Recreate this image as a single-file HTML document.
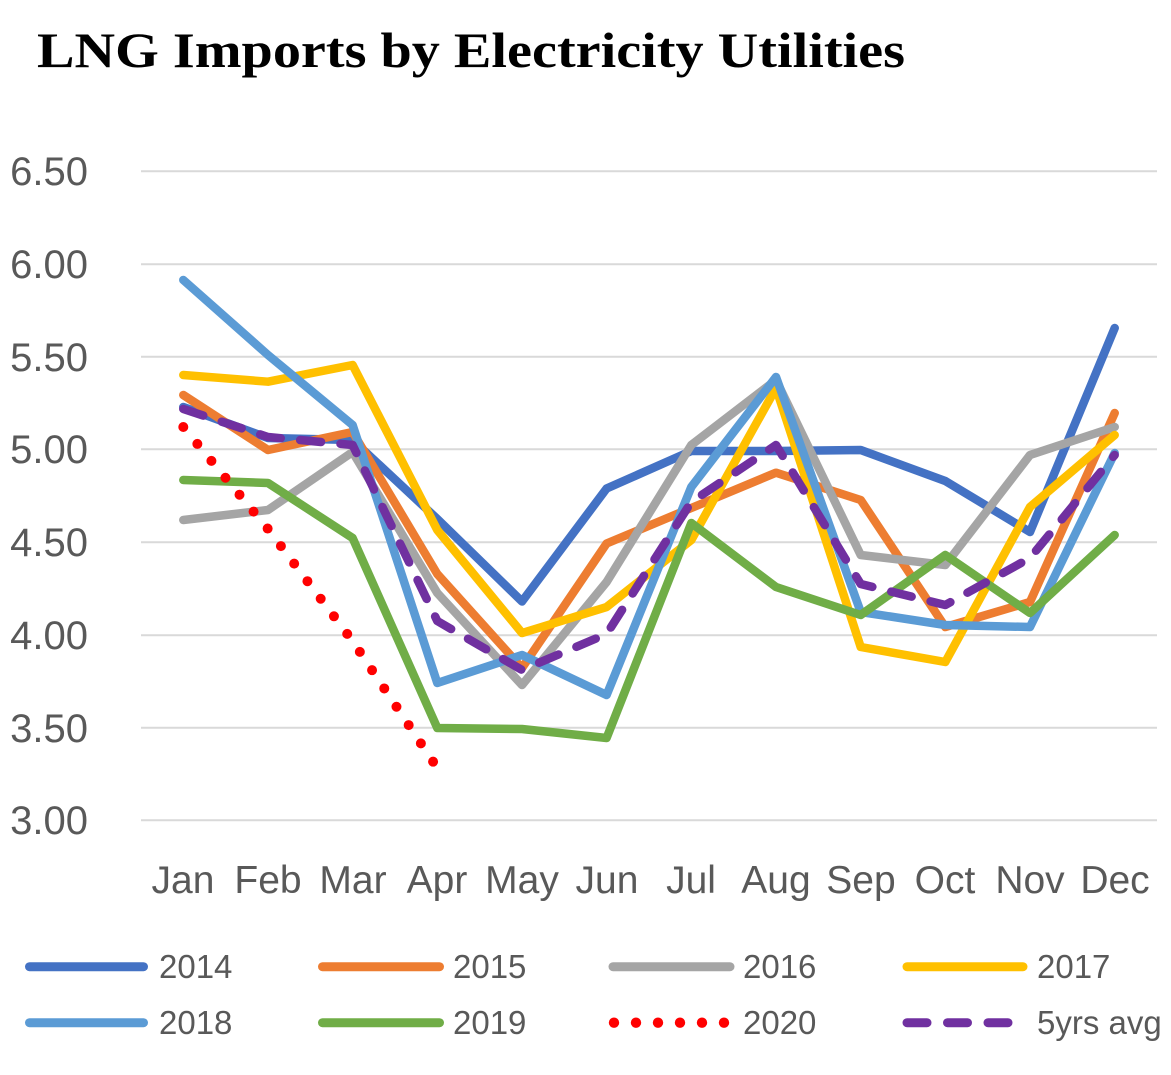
<!DOCTYPE html>
<html>
<head>
<meta charset="utf-8">
<style>
html,body{margin:0;padding:0;background:#fff;}
svg{display:block;}
</style>
</head>
<body>
<svg width="1171" height="1075" viewBox="0 0 1171 1075" xmlns="http://www.w3.org/2000/svg">
<rect width="1171" height="1075" fill="#fff"/>
<text x="37" y="67" font-family="'Liberation Serif', serif" font-weight="bold" font-size="50" fill="#000" textLength="868" lengthAdjust="spacingAndGlyphs">LNG Imports by Electricity Utilities</text>

<g stroke="#d9d9d9" stroke-width="2">
<line x1="141" y1="171.3" x2="1157" y2="171.3"/>
<line x1="141" y1="264.3" x2="1157" y2="264.3"/>
<line x1="141" y1="356.7" x2="1157" y2="356.7"/>
<line x1="141" y1="449.3" x2="1157" y2="449.3"/>
<line x1="141" y1="542.3" x2="1157" y2="542.3"/>
<line x1="141" y1="635.3" x2="1157" y2="635.3"/>
<line x1="141" y1="727.7" x2="1157" y2="727.7"/>
<line x1="141" y1="820.3" x2="1157" y2="820.3"/>
</g>

<g font-family="'Liberation Sans', sans-serif" font-size="40" fill="#595959" text-anchor="end">
<text x="88" y="185">6.50</text>
<text x="88" y="278">6.00</text>
<text x="88" y="371">5.50</text>
<text x="88" y="463">5.00</text>
<text x="88" y="556">4.50</text>
<text x="88" y="649">4.00</text>
<text x="88" y="742">3.50</text>
<text x="88" y="834">3.00</text>
</g>

<g font-family="'Liberation Sans', sans-serif" font-size="39" fill="#595959" text-anchor="middle">
<text x="183" y="893">Jan</text>
<text x="268" y="893">Feb</text>
<text x="353" y="893">Mar</text>
<text x="437" y="893">Apr</text>
<text x="522" y="893">May</text>
<text x="607" y="893">Jun</text>
<text x="691" y="893">Jul</text>
<text x="776" y="893">Aug</text>
<text x="861" y="893">Sep</text>
<text x="945" y="893">Oct</text>
<text x="1030" y="893">Nov</text>
<text x="1115" y="893">Dec</text>
</g>

<g fill="none" stroke-width="8.5" stroke-linecap="round" stroke-linejoin="round">
<polyline stroke="#4472C4" points="183.3,407 268,438 352.6,440 437.3,519 522,601.5 606.6,488.5 691.3,451 776,451 860.7,450 945.3,481 1030,532 1114.7,328"/>
<polyline stroke="#ED7D31" points="183.3,395 268,450 352.6,432 437.3,574 522,668 606.6,543.5 691.3,508 776,472.7 860.7,500 945.3,627 1030,602 1114.7,413"/>
<polyline stroke="#A5A5A5" points="183.3,520 268,510 352.6,452 437.3,593 522,685 606.6,582 691.3,445 776,380 860.7,555 945.3,565 1030,455 1114.7,427"/>
<polyline stroke="#FFC000" points="183.3,375 268,381.7 352.6,365 437.3,530 522,633 606.6,607 691.3,540 776,388 860.7,647 945.3,662 1030,507 1114.7,435"/>
<polyline stroke="#5B9BD5" points="183.3,280 268,355 352.6,425 437.3,683 522,655 606.6,695 691.3,487 776,377 860.7,612 945.3,625 1030,627 1114.7,453"/>
<polyline stroke="#70AD47" points="183.3,480 268,483 352.6,538 437.3,728 522,729 606.6,738 691.3,523 776,587 860.7,615 945.3,555 1030,613 1114.7,535"/>
<polyline stroke="#FF0000" stroke-width="10" stroke-dasharray="0 22" points="183.3,427 268,529 352.6,641 437.3,768"/>
<polyline stroke="#7030A0" stroke-dasharray="21 19.5" points="183.3,409 268,437 352.6,445 437.3,621 522,670 606.6,634 691.3,502 776,445 860.7,584 945.3,605 1030,558 1114.7,455"/>
</g>

<g stroke-width="9" stroke-linecap="round" fill="none">
<line x1="29.5" y1="966.7" x2="143.5" y2="966.7" stroke="#4472C4"/>
<line x1="322.5" y1="966.7" x2="439.5" y2="966.7" stroke="#ED7D31"/>
<line x1="613" y1="966.7" x2="730" y2="966.7" stroke="#A5A5A5"/>
<line x1="907" y1="966.7" x2="1023" y2="966.7" stroke="#FFC000"/>
<line x1="29.5" y1="1022.7" x2="143.5" y2="1022.7" stroke="#5B9BD5"/>
<line x1="322.5" y1="1022.7" x2="439.5" y2="1022.7" stroke="#70AD47"/>
<line x1="907" y1="1022.7" x2="1023" y2="1022.7" stroke="#7030A0" stroke-dasharray="20 20.5"/>
</g>
<g fill="#FF0000">
<circle cx="614" cy="1022.7" r="5.2"/>
<circle cx="636" cy="1022.7" r="5.2"/>
<circle cx="658" cy="1022.7" r="5.2"/>
<circle cx="680" cy="1022.7" r="5.2"/>
<circle cx="702" cy="1022.7" r="5.2"/>
<circle cx="724" cy="1022.7" r="5.2"/>
</g>
<g font-family="'Liberation Sans', sans-serif" font-size="33" fill="#595959">
<text x="159" y="978">2014</text>
<text x="453" y="978">2015</text>
<text x="743" y="978">2016</text>
<text x="1037" y="978">2017</text>
<text x="159" y="1034">2018</text>
<text x="453" y="1034">2019</text>
<text x="743" y="1034">2020</text>
<text x="1037" y="1034">5yrs avg</text>
</g>
</svg>
</body>
</html>
